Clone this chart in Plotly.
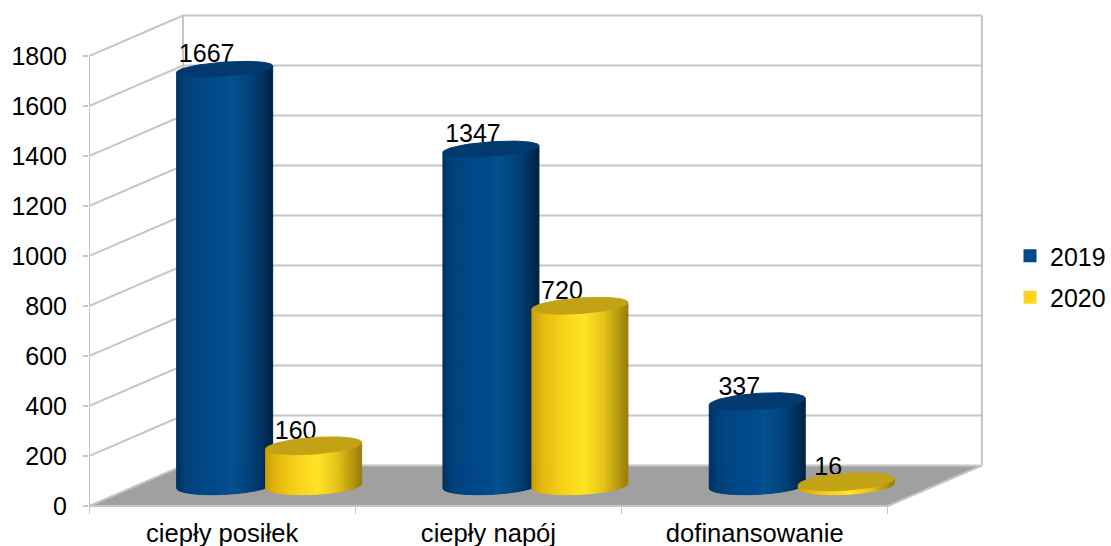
import numpy as np
import plotly.graph_objects as go

categories = ["ciepły posiłek", "ciepły napój", "dofinansowanie"]
years = ["2019", "2020"]
values_2019 = [1667, 1347, 337]
values_2020 = [160, 720, 16]
y_ticks = [0, 200, 400, 600, 800, 1000, 1200, 1400, 1600, 1800]

W, H = 1111, 546
LEFT, RIGHT = 89, 1111       # pixel span of the plot area
ZERO_Y = 506                 # pixel row of value 0
PX_X = 266.3                 # pixels per category
PX_Y = 0.25                  # pixels per value unit
DEPTH_X = 94 / PX_X          # oblique depth, category units
DEPTH_Y = 40.5 / PX_Y        # oblique depth, value units
GRID = "#c6c6c6"
FLOOR = "#a0a0a0"

RAMPS = {
    "2019": [(0, "#01325f"), (0.10, "#00417c"), (0.30, "#014887"), (0.52, "#024c8e"),
             (0.56, "#05528f"), (0.78, "#01427c"), (0.92, "#012f59"), (1, "#002445")],
    "2020": [(0, "#c99e08"), (0.12, "#e6b90f"), (0.35, "#f8d41c"), (0.55, "#ffe426"),
             (0.75, "#e6c41a"), (0.90, "#b99a10"), (1, "#9a7d0b")],
}
LIDS = {"2019": "#023a70", "2020": "#c4a216"}
LEGEND_COLORS = {"2019": "#02488a", "2020": "#ffd41e"}


def hex_rgb(c):
    return np.array([int(c[i:i + 2], 16) for i in (1, 3, 5)], float)


def ramp_color(stops, t):
    pos = [s[0] for s in stops]
    cols = np.array([hex_rgb(s[1]) for s in stops])
    r, g, b = (np.interp(t, pos, cols[:, k]) for k in range(3))
    return f"rgb({r:.0f},{g:.0f},{b:.0f})"


def floor_xy(cat_index, offset):
    """Centre of a cylinder's base, half way into the chart's depth."""
    return cat_index + 0.5 + offset + DEPTH_X / 2, DEPTH_Y / 2


def cylinder_traces(cat_index, offset, value, year):
    cx, base = floor_xy(cat_index, offset)
    top = base + value
    a = 48 / PX_X
    lid_b = (6.8 + 1.6 * (1 - value / 1800)) / PX_Y
    lid_s = 3.3 / PX_Y
    foot_b = 8.6 / PX_Y
    foot_s = 2.4 / PX_Y
    traces = []
    edges = np.linspace(-1, 1, 97)
    for u0, u1 in zip(edges[:-1], edges[1:]):
        us = np.linspace(u0, u1, 3)
        xs = cx + a * us
        upper = top + lid_s * us
        lower = base + foot_s * us - foot_b * np.sqrt(1 - us ** 2)
        color = ramp_color(RAMPS[year], (u0 + u1 + 2) / 4)
        traces.append(go.Scatter(
            x=np.r_[xs, xs[::-1], xs[0]], y=np.r_[upper, lower[::-1], upper[0]],
            mode="lines", fill="toself", fillcolor=color,
            line=dict(color=color, width=1), hoverinfo="skip", showlegend=False))
    th = np.linspace(0, 2 * np.pi, 90)
    traces.append(go.Scatter(
        x=cx + a * np.cos(th),
        y=top + lid_b * np.sin(th) + lid_s * np.cos(th),
        mode="lines", fill="toself", fillcolor=LIDS[year],
        line=dict(color=LIDS[year], width=1), hoverinfo="skip", showlegend=False))
    return traces


fig = go.Figure()

# floor
n = len(categories)
fig.add_trace(go.Scatter(
    x=[0, n, n + DEPTH_X, DEPTH_X, 0], y=[0, 0, DEPTH_Y, DEPTH_Y, 0],
    mode="lines", fill="toself", fillcolor=FLOOR, line=dict(color=FLOOR, width=1),
    hoverinfo="skip", showlegend=False))

# gridlines folding from the side wall onto the back wall
for v in y_ticks:
    fig.add_trace(go.Scatter(
        x=[0, DEPTH_X, n + DEPTH_X], y=[v, v + DEPTH_Y, v + DEPTH_Y],
        mode="lines", line=dict(color=GRID, width=2), hoverinfo="skip", showlegend=False))

# wall edges and the front floor edge
top_v = y_ticks[-1]
for xs, ys in [([0, 0], [0, top_v]),
               ([DEPTH_X, DEPTH_X], [DEPTH_Y, top_v + DEPTH_Y]),
               ([n + DEPTH_X, n + DEPTH_X], [DEPTH_Y, top_v + DEPTH_Y]),
               ([0, n], [0, 0]),
               ([n, n + DEPTH_X], [0, DEPTH_Y])]:
    fig.add_trace(go.Scatter(x=xs, y=ys, mode="lines", line=dict(color=GRID, width=2),
                             hoverinfo="skip", showlegend=False))

OFFSET = 44.5 / PX_X
LABEL_DX = -18 / PX_X
LABEL_DY = 13 / PX_Y
series = [("2019", values_2019, -OFFSET), ("2020", values_2020, OFFSET)]

# value labels sit behind the cylinders
for year, vals, off in series:
    for i, v in enumerate(vals):
        cx, base = floor_xy(i, off)
        fig.add_trace(go.Scatter(
            x=[cx + LABEL_DX], y=[base + v + LABEL_DY], mode="text", text=[str(v)],
            textposition="middle center", textfont=dict(size=25, color="#000000"),
            hoverinfo="skip", showlegend=False))

for i in range(n):
    for year, vals, off in series:
        for tr in cylinder_traces(i, off, vals[i], year):
            fig.add_trace(tr)

# legend entries
for year in years:
    fig.add_trace(go.Scatter(
        x=[None], y=[None], mode="markers", name=year, legendgroup=year,
        marker=dict(symbol="square", size=13, color=LEGEND_COLORS[year])))

fig.update_layout(
    width=W, height=H, autosize=False,
    margin=dict(l=LEFT, r=W - RIGHT, t=0, b=0, pad=0),
    paper_bgcolor="white", plot_bgcolor="white",
    font=dict(family="Liberation Sans, Arial, sans-serif", size=25, color="#000000"),
    showlegend=True,
    legend=dict(x=1, y=(H - 233) / H, xanchor="right", yanchor="top",
                tracegroupgap=6, bgcolor="rgba(0,0,0,0)", entrywidth=48, entrywidthmode="pixels",
                font=dict(size=25)),
    xaxis=dict(
        range=[0, (RIGHT - LEFT) / PX_X], anchor="free", position=(H - ZERO_Y) / H,
        automargin=False,
        showgrid=False, zeroline=False, showline=False,
        tickmode="array", tickvals=[0.5, 1.5, 2.5], ticktext=categories,
        tickfont=dict(size=25.6),
        ticks="", ticklabelstandoff=9,
        minor=dict(tickmode="array", tickvals=[0, 1, 2, 3], ticks="outside",
                   ticklen=7, tickwidth=1, tickcolor=GRID, showgrid=False),
    ),
    yaxis=dict(
        range=[(ZERO_Y - H) / PX_Y, ZERO_Y / PX_Y],
        automargin=False,
        showgrid=False, zeroline=False, showline=False,
        tickmode="array", tickvals=y_ticks, ticks="outside", ticklen=5, tickwidth=2,
        tickcolor=GRID, ticklabelstandoff=11,
    ),
)

fig.write_html("out.html", config={"displayModeBar": False})
